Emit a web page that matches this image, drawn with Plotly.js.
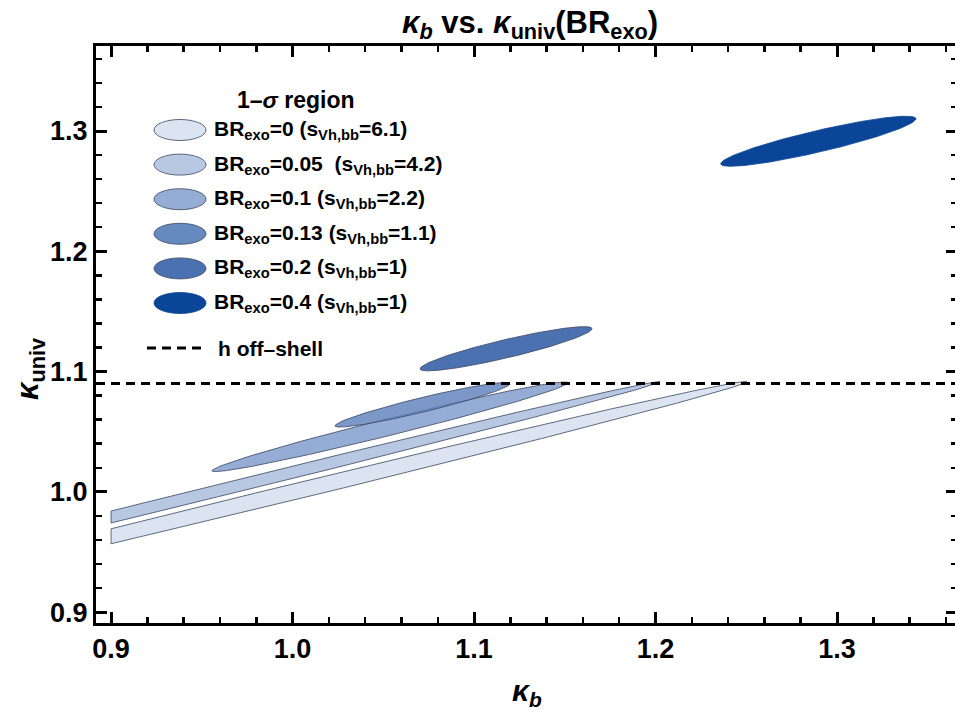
<!DOCTYPE html>
<html>
<head>
<meta charset="utf-8">
<script src="https://cdn.plot.ly/plotly-3.0.1.min.js"></script>
<style>
html,body{margin:0;padding:0;overflow:hidden;background:#fff;}
#chart{width:958px;height:713px;}
</style>
</head>
<body>
<div id="chart"></div>
<script>
// ---- data ----
const brExo = ["0", "0.05", "0.1", "0.13", "0.2", "0.4"];
const sVhbb = ["6.1", "4.2", "2.2", "1.1", "1", "1"];
// tips of each 1-sigma region (kappa_b, kappa_univ) and vertical half-width at centre
const kbLeft  = [0.750, 0.7375, 0.9556, 1.0234, 1.0702, 1.2359];
const kuLeft  = [0.908, 0.9186, 1.0175, 1.0549, 1.1023, 1.2728];
const kbRight = [1.2504, 1.2025, 1.1518, 1.1198, 1.1650, 1.3435];
const kuRight = [1.0915, 1.0915, 1.0906, 1.0898, 1.1356, 1.3102];
const halfWidth = [0.0068, 0.0052, 0.0072, 0.0062, 0.0078, 0.0092];
const kbLowerBound = 0.9;     // regions shown for kappa_b >= 0.9
const offShellKappa = 1.09;   // h off-shell bound
const xTickVals = [0.9, 1.0, 1.1, 1.2, 1.3];
const yTickVals = [0.9, 1.0, 1.1, 1.2, 1.3];

// ---- styles ----
const fills = ["#dde4f1", "#b8c8e2", "#95acd4", "rgba(100,134,190,0.85)", "#4b71b1", "#0b4597"];
const legendFills = ["#dde4f1", "#b8c8e2", "#95acd4", "#6689c0", "#4b71b1", "#0b4597"];
const edge = "#3a4660";
const FONT = "Liberation Sans, Arial, Helvetica, sans-serif";

function ellipsePts(i) {
  const cx = (kbLeft[i] + kbRight[i]) / 2, cy = (kuLeft[i] + kuRight[i]) / 2;
  const hx = kbRight[i] - cx, hy = kuRight[i] - cy, w = halfWidth[i];
  const xs = [], ys = [];
  const n = 400;
  for (let k = 0; k < n; k++) {
    const t = 2 * Math.PI * k / n;
    xs.push(cx + hx * Math.cos(t));
    ys.push(cy + hy * Math.cos(t) + w * Math.sin(t));
  }
  return clipX(xs, ys, kbLowerBound);
}
function clipX(xs, ys, xmin) {
  const ox = [], oy = [];
  const n = xs.length;
  for (let i = 0; i < n; i++) {
    const j = (i - 1 + n) % n;
    const cIn = xs[i] >= xmin, pIn = xs[j] >= xmin;
    const inter = () => {
      const f = (xmin - xs[j]) / (xs[i] - xs[j]);
      ox.push(xmin); oy.push(ys[j] + f * (ys[i] - ys[j]));
    };
    if (cIn) { if (!pIn) inter(); ox.push(xs[i]); oy.push(ys[i]); }
    else if (pIn) inter();
  }
  ox.push(ox[0]); oy.push(oy[0]);
  return [ox, oy];
}

const traces = brExo.map((b, i) => {
  const [x, y] = ellipsePts(i);
  return {
    type: "scatter", mode: "lines", x, y, fill: "toself",
    fillcolor: fills[i],
    line: {color: i === 5 ? "#0b4597" : edge, width: 0.8},
    hoverinfo: "skip", showlegend: false
  };
});

// ---- layout ----
const W = 958, H = 713, L = 96, R = 1, T = 46, B = 90;
const pw = W - L - R, ph = H - T - B;
const px = v => (v - L) / pw;
const py = v => (H - B - v) / ph;

const shapes = [
  {type: "line", xref: "paper", x0: 0, x1: 1, yref: "y", y0: offShellKappa, y1: offShellKappa,
   line: {color: "black", width: 3, dash: "9px,6px"}, layer: "above"}
];
const annotations = [];
const rowY0 = 130, rowStep = 34.6;
const LFS = 21;
annotations.push({xref: "paper", yref: "paper", x: px(296), y: py(100), xanchor: "center", yanchor: "middle",
  text: "<b>1–<i>σ</i> region</b>", showarrow: false, font: {family: FONT, size: 23, color: "black"}});
brExo.forEach((b, i) => {
  const yy = rowY0 + i * rowStep;
  shapes.push({type: "circle", xref: "paper", yref: "paper", xsizemode: "pixel", ysizemode: "pixel",
    xanchor: px(180), yanchor: py(yy), x0: -26, x1: 26, y0: -10.5, y1: 10.5,
    fillcolor: legendFills[i], line: {color: i === 5 ? "#0b4597" : edge, width: 0.8}});
  annotations.push({xref: "paper", yref: "paper", x: px(212), y: py(yy), xanchor: "left", yanchor: "middle",
    text: "<b>BR<sub>exo</sub>=" + b + (b === "0.05" ? "  " : " ") + "(s<sub>Vh,bb</sub>=" + sVhbb[i] + ")</b>",
    showarrow: false, font: {family: FONT, size: LFS, color: "black"}});
});
const dashY = 348;
shapes.push({type: "line", xref: "paper", yref: "paper", xsizemode: "pixel", ysizemode: "pixel",
  xanchor: px(147), yanchor: py(dashY), x0: 0, x1: 58, y0: 0, y1: 0,
  line: {color: "black", width: 3, dash: "9px,6px"}});
annotations.push({xref: "paper", yref: "paper", x: px(216), y: py(dashY), xanchor: "left", yanchor: "middle",
  text: "<b>h off–shell</b>", showarrow: false, font: {family: FONT, size: LFS, color: "black"}});

// axis titles
annotations.push({xref: "paper", yref: "paper", x: px(527), y: py(692), xanchor: "center", yanchor: "middle",
  text: "<b><i>κ<sub>b</sub></i></b>", showarrow: false, font: {family: FONT, size: 30, color: "black"}});
annotations.push({xref: "paper", yref: "paper", x: px(30), y: py(369), xanchor: "center", yanchor: "middle",
  textangle: -90, text: "<b><i>κ</i><sub>univ</sub></b>", showarrow: false,
  font: {family: FONT, size: 31, color: "black"}});

const axisCommon = {
  showgrid: false, zeroline: false, showline: true, linecolor: "black", linewidth: 3,
  mirror: "allticks", ticks: "inside", ticklen: 11, tickwidth: 3, tickcolor: "black",
  tickformat: ".1f",
  tickfont: {family: FONT, size: 27, color: "black", weight: "bold"},
  minor: {dtick: 0.02, ticks: "inside", ticklen: 6, tickwidth: 2.5, tickcolor: "black"}
};

const layout = {
  width: W, height: H,
  margin: {l: L, r: R, t: T, b: B},
  paper_bgcolor: "white", plot_bgcolor: "white",
  showlegend: false,
  title: {text: "<b><i>κ<sub>b</sub></i> vs. <i>κ</i><sub>univ</sub>(BR<sub>exo</sub>)</b>",
    xref: "container", x: 530 / W, xanchor: "center", y: 1 - 22 / H, yanchor: "middle",
    font: {family: FONT, size: 31, color: "black"}},
  xaxis: Object.assign({}, axisCommon, {
    range: [0.8917, 1.3661], tickvals: xTickVals, ticktext: xTickVals.map(v => v.toFixed(1))
  }),
  yaxis: Object.assign({}, axisCommon, {
    range: [0.8909, 1.3707], tickvals: yTickVals, ticktext: yTickVals.map(v => v.toFixed(1))
  }),
  shapes, annotations
};

Plotly.newPlot("chart", traces, layout, {staticPlot: true, displayModeBar: false});
</script>
</body>
</html>
